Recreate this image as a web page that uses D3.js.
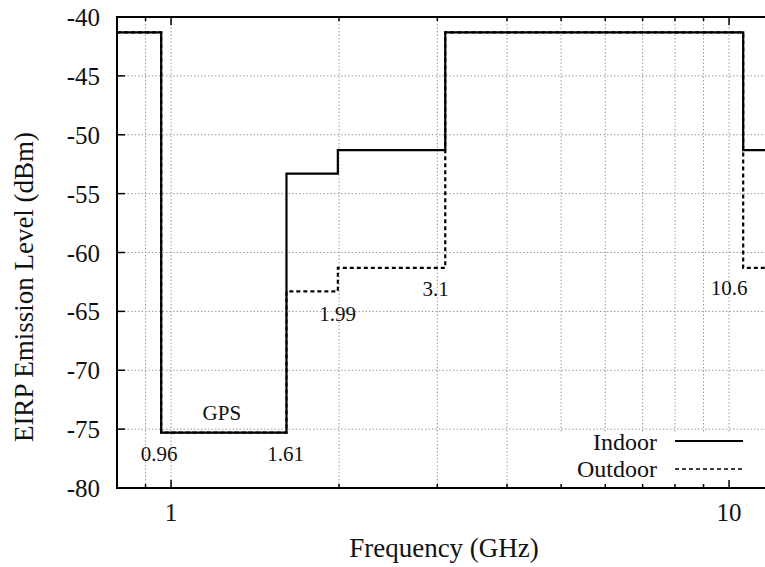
<!DOCTYPE html>
<html>
<head>
<meta charset="utf-8">
<script src="https://cdn.jsdelivr.net/npm/d3@7"></script>
<style>
  body { margin: 0; background: #fff; }
  svg text { font-family: "Liberation Serif", serif; fill: #111; }
</style>
</head>
<body>
<div id="chart"></div>
<script>
// band edges in GHz and the mask level in each band
const edges = [0.8, 0.96, 1.61, 1.99, 3.1, 10.6, 12];
const indoor = [-41.3, -75.3, -53.3, -51.3, -41.3, -51.3];
const outdoor = [-41.3, -75.3, -63.3, -61.3, -41.3, -61.3];

const yTicks = [-80, -75, -70, -65, -60, -55, -50, -45, -40];
const xMajor = [1, 10];
const xMinor = [0.9, 2, 3, 4, 5, 6, 7, 8, 9];

// frequency labels written in the plot: [text, GHz, dBm]
const notes = [
  ["GPS", 1.233, -74.2],
  ["0.96", 0.952, -77.7],
  ["1.61", 1.604, -77.7],
  ["1.99", 1.988, -65.8],
  ["3.1", 2.98, -63.7],
  ["10.6", 10.0, -63.6]
];

const width = 765, height = 567;
const plotLeft = 117, plotTop = 17, plotBottom = 488;
const decade = 558;

const svg = d3.select("#chart").append("svg")
  .attr("width", width)
  .attr("height", height);

svg.append("rect").attr("width", width).attr("height", height).attr("fill", "#fff");

const x = d3.scaleLog()
  .domain([edges[0], edges[edges.length - 1]])
  .range([plotLeft, plotLeft + decade * Math.log10(edges[edges.length - 1] / edges[0])]);
const y = d3.scaleLinear().domain([-80, -40]).range([plotBottom, plotTop]);

const plotRight = x.range()[1];

// grid
const grid = svg.append("g")
  .attr("stroke", "#9a9a9a")
  .attr("stroke-width", 1)
  .attr("stroke-dasharray", "1.5,2");

grid.selectAll(".gx")
  .data(xMajor.concat(xMinor))
  .join("line")
  .attr("x1", d => x(d)).attr("x2", d => x(d))
  .attr("y1", plotTop).attr("y2", plotBottom);

grid.selectAll(".gy")
  .data(yTicks.filter(d => d > -80 && d < -40))
  .join("line")
  .attr("x1", plotLeft).attr("x2", plotRight)
  .attr("y1", d => y(d)).attr("y2", d => y(d));

// step lines
svg.append("clipPath").attr("id", "plot")
  .append("rect")
  .attr("x", plotLeft).attr("y", plotTop)
  .attr("width", plotRight - plotLeft).attr("height", plotBottom - plotTop);

const stepLine = d3.line()
  .x(d => x(d[0]))
  .y(d => y(d[1]))
  .curve(d3.curveStepAfter);

function steps(vals) {
  const pts = vals.map((v, i) => [edges[i], v]);
  pts.push([edges[edges.length - 1], vals[vals.length - 1]]);
  return pts;
}

const lines = svg.append("g").attr("clip-path", "url(#plot)");

lines.append("path")
  .attr("d", stepLine(steps(outdoor)))
  .attr("fill", "none")
  .attr("stroke", "#000")
  .attr("stroke-width", 2.2)
  .attr("stroke-dasharray", "4,3");

lines.append("path")
  .attr("d", stepLine(steps(indoor)))
  .attr("fill", "none")
  .attr("stroke", "#000")
  .attr("stroke-width", 2.2);

// legend (opaque box)
svg.append("rect")
  .attr("x", 548).attr("y", 432)
  .attr("width", width - 548).attr("height", plotBottom - 432)
  .attr("fill", "#fff");

const legend = [["Indoor", null, 450, 441], ["Outdoor", "4,3", 477, 469]];
legend.forEach(([label, dash, ty, ly]) => {
  svg.append("text")
    .attr("x", 657).attr("y", ty)
    .attr("text-anchor", "end")
    .attr("font-size", 24)
    .text(label);
  svg.append("line")
    .attr("x1", 675).attr("x2", 743)
    .attr("y1", ly).attr("y2", ly)
    .attr("stroke", "#000")
    .attr("stroke-width", dash ? 1.6 : 2.2)
    .attr("stroke-dasharray", dash);
});

// frame and ticks
svg.append("rect")
  .attr("x", plotLeft).attr("y", plotTop)
  .attr("width", plotRight - plotLeft).attr("height", plotBottom - plotTop)
  .attr("fill", "none")
  .attr("stroke", "#000")
  .attr("stroke-width", 2);

const ticks = svg.append("g").attr("stroke", "#000").attr("stroke-width", 1.5);

yTicks.forEach(d => {
  ticks.append("line").attr("x1", plotLeft).attr("x2", plotLeft + 8).attr("y1", y(d)).attr("y2", y(d));
  ticks.append("line").attr("x1", plotRight).attr("x2", plotRight - 8).attr("y1", y(d)).attr("y2", y(d));
});
xMajor.forEach(d => {
  ticks.append("line").attr("x1", x(d)).attr("x2", x(d)).attr("y1", plotBottom).attr("y2", plotBottom - 8);
  ticks.append("line").attr("x1", x(d)).attr("x2", x(d)).attr("y1", plotTop).attr("y2", plotTop + 8);
});
xMinor.forEach(d => {
  ticks.append("line").attr("x1", x(d)).attr("x2", x(d)).attr("y1", plotBottom).attr("y2", plotBottom - 4);
  ticks.append("line").attr("x1", x(d)).attr("x2", x(d)).attr("y1", plotTop).attr("y2", plotTop + 4);
});

// tick labels
svg.selectAll(".ylab")
  .data(yTicks)
  .join("text")
  .attr("x", 100)
  .attr("y", d => y(d) + 9)
  .attr("text-anchor", "end")
  .attr("font-size", 25)
  .text(d => d);

svg.selectAll(".xlab")
  .data(xMajor)
  .join("text")
  .attr("x", d => x(d))
  .attr("y", 521)
  .attr("text-anchor", "middle")
  .attr("font-size", 25)
  .text(d => d);

// notes
svg.selectAll(".note")
  .data(notes)
  .join("text")
  .attr("x", d => x(d[1]))
  .attr("y", d => y(d[2]))
  .attr("text-anchor", "middle")
  .attr("font-size", 21)
  .text(d => d[0]);

// axis titles
svg.append("text")
  .attr("x", 444).attr("y", 557)
  .attr("text-anchor", "middle")
  .attr("font-size", 27)
  .text("Frequency (GHz)");

svg.append("text")
  .attr("transform", "translate(33,287) rotate(-90)")
  .attr("text-anchor", "middle")
  .attr("font-size", 27)
  .text("EIRP Emission Level (dBm)");
</script>
</body>
</html>
